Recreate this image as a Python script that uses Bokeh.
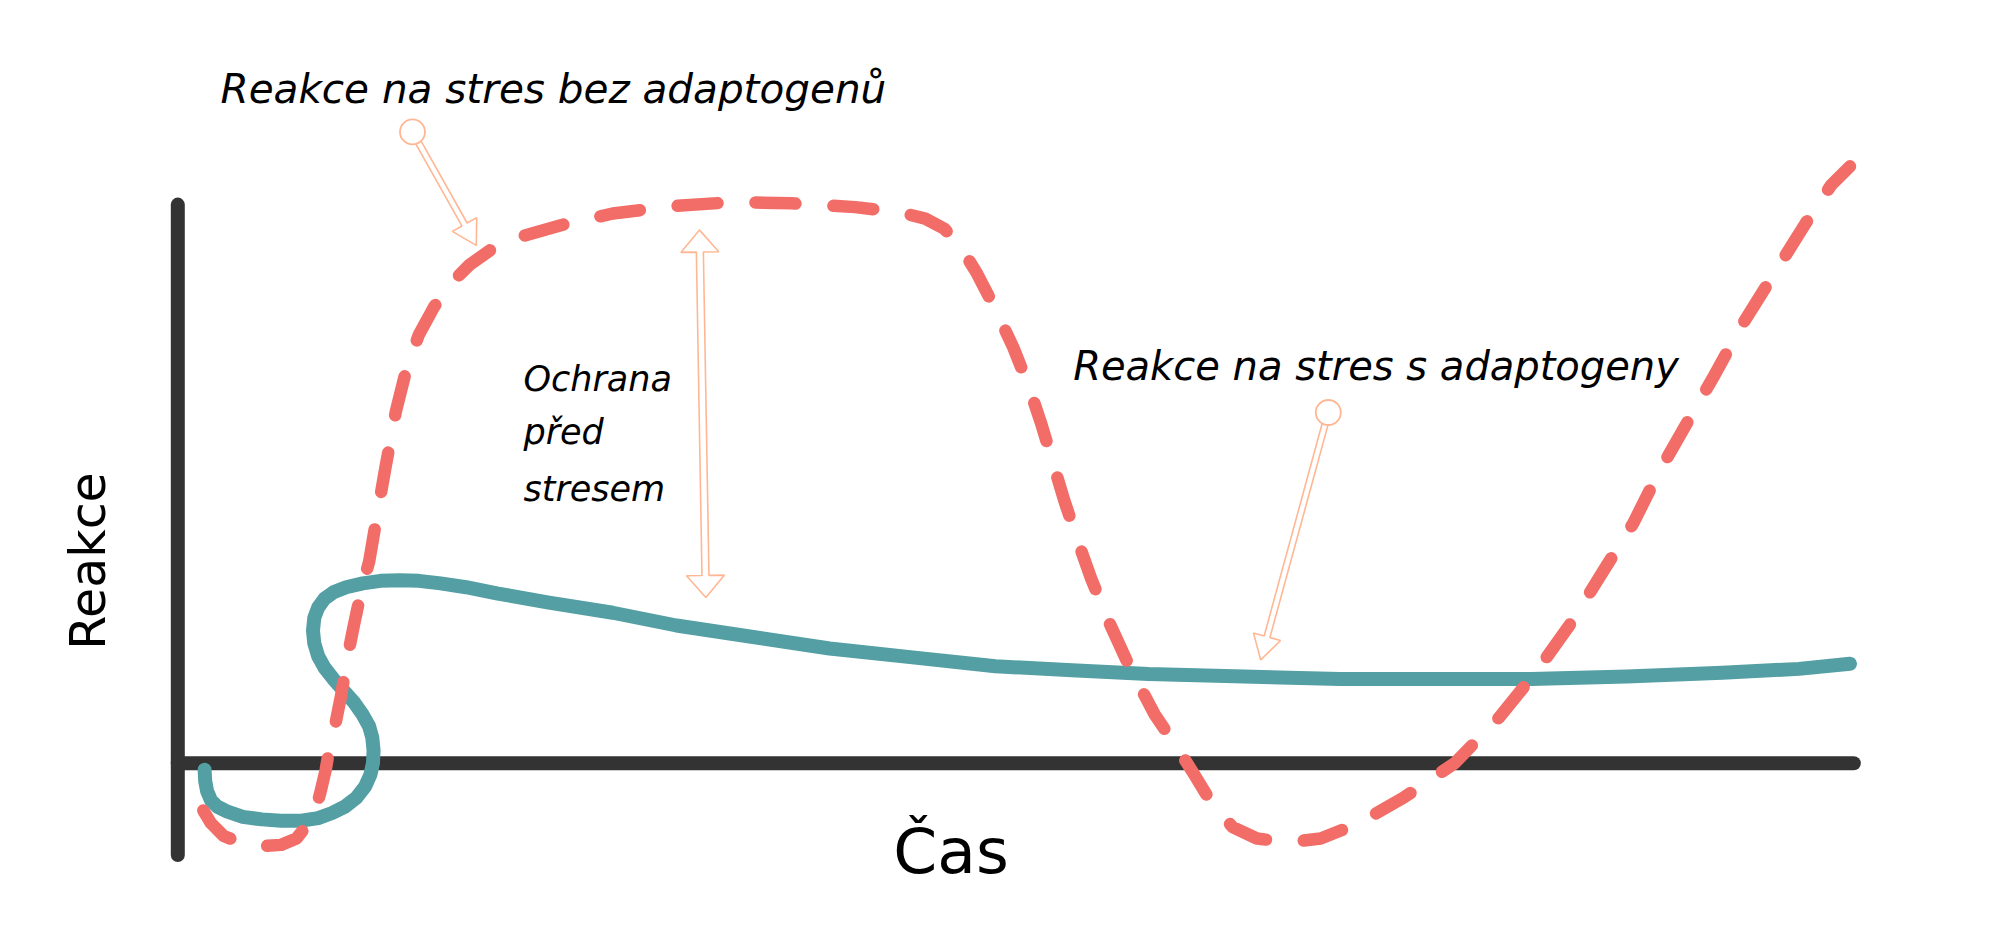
import numpy as np
from bokeh.plotting import figure
from bokeh.models import Range1d
from bokeh.core.properties import value
from bokeh.embed import file_html
from bokeh.resources import INLINE

# ---- data (in reference-drawing units) ----
axis_v_x = [139, 139]
axis_v_y = [160, 670]
axis_h_x = [139, 1453]
axis_h_y = [598, 598]

# Reaction with adaptogens (solid teal)
teal_x = [160, 160.5, 162, 165, 170, 178, 190, 205, 220, 236, 249, 260, 270, 279, 286, 290, 292,
          292.5, 291.5, 289, 284, 277, 269, 261, 254, 249, 246, 245, 246, 249, 254, 261, 271,
          284, 298, 313, 328, 345, 365, 390, 430, 480, 530, 590, 650, 715, 780, 840,
          900, 975, 1050, 1125, 1200, 1275, 1350, 1410, 1450]
teal_y = [603, 612, 620, 627, 632, 636, 640, 642, 643, 643, 641, 637, 632, 625, 616, 607, 598,
          588, 578, 569, 560, 550, 541, 532, 523, 514, 504, 494, 484, 476, 469, 464, 460,
          457, 455, 454.5, 455, 457, 460, 465, 472, 480, 490, 499, 508, 515, 522, 525,
          528, 530, 532, 532, 532, 530, 527, 524, 520]

# Reaction without adaptogens (dashed red)
red_x = [159, 165, 175, 190, 205, 220, 232, 240, 247, 251, 255, 258, 263, 267, 272, 277, 283,
         289, 295, 302, 310, 318, 328, 340, 353, 368, 385, 405, 440, 480, 530, 575, 620, 670, 705,
         725, 740, 752, 765, 780, 794, 806, 816, 825, 834, 844, 855, 868, 885, 905, 922, 936, 950,
         966, 985, 1010, 1035, 1065, 1100, 1140, 1175, 1205, 1232, 1258, 1280, 1300, 1320,
         1343, 1365, 1390, 1415, 1435, 1450]
red_y = [635, 645, 655, 661, 663, 662, 657, 647, 635, 620, 603, 585, 565, 545, 515, 490, 462,
         440, 405, 365, 322, 290, 262, 240, 222, 207, 195, 186, 176, 167, 161, 158, 159, 162, 166,
         171, 179, 192, 213, 242, 272, 302, 332, 362, 392, 422, 453, 485, 522, 560, 585, 607, 630,
         648, 657, 660, 657, 645, 625, 598, 562, 525, 487, 445, 410, 370, 335, 295, 255, 215,
         175, 145, 130]

# Arrows: start point (circle centre for pointers) and tip
ptr1_start = (323, 103)
ptr1_tip = (373, 192)
ptr2_start = (1041, 323)
ptr2_tip = (988, 517)
dbl_top = (548, 180)
dbl_bottom = (553, 468)

title_left = "Reakce na stres bez adaptogenů"
title_right = "Reakce na stres s adaptogeny"
mid_lines = ["Ochrana", "před", "stresem"]
x_label = "Čas"
y_label = "Reakce"

# ---- figure ----
S = 2000 / 1568
W, H = 1984, 916
p = figure(width=W, height=H,
           x_range=Range1d(0, W / S),
           y_range=Range1d(H / S, 0),
           output_backend="svg", toolbar_location=None,
           x_axis_location=None, y_axis_location=None, min_border=0)
p.grid.visible = False
p.outline_line_color = None
p.background_fill_color = "white"
p.border_fill_color = "white"

AXIS = "#333333"
TEAL = "#539FA3"
RED = "#F26D68"
PEACH = "#FFB793"

p.line(axis_v_x, axis_v_y, line_color=AXIS, line_width=14, line_cap="round")
p.line(axis_h_x, axis_h_y, line_color=AXIS, line_width=14, line_cap="round")

p.line(teal_x, teal_y, line_color=TEAL, line_width=14, line_cap="round", line_join="round")
p.line(red_x, red_y, line_color=RED, line_width=12.5, line_cap="round", line_join="round",
       line_dash="40 38")


def arrow_outline(a, b, shaft_w, head_w, head_l, double=False):
    a = np.array(a, float)
    b = np.array(b, float)
    d = b - a
    u = d / np.hypot(*d)
    n = np.array([-u[1], u[0]])
    end = b - u * head_l
    pts = []
    if double:
        start = a + u * head_l
        pts += [start - n * head_w / 2, a, start + n * head_w / 2]
    else:
        start = a
    pts += [start + n * shaft_w / 2, end + n * shaft_w / 2, end + n * head_w / 2, b,
            end - n * head_w / 2, end - n * shaft_w / 2, start - n * shaft_w / 2]
    pts = np.array(pts)
    return list(pts[:, 0]), list(pts[:, 1])


def pointer(c, tip):
    c = np.array(c, float)
    t = np.array(tip, float)
    u = (t - c) / np.hypot(*(t - c))
    r = 12 / S
    xs, ys = arrow_outline(c + u * r, t, 6 / S, 28 / S, 24 / S)
    p.patch(xs, ys, fill_color="white", line_color=PEACH, line_width=1.6)
    p.scatter([c[0]], [c[1]], size=25, marker="circle", fill_color="white",
              line_color=PEACH, line_width=1.8)


pointer(ptr1_start, ptr1_tip)
pointer(ptr2_start, ptr2_tip)
xs, ys = arrow_outline(dbl_top, dbl_bottom, 7 / S, 38 / S, 22 / S, double=True)
p.patch(xs, ys, fill_color="white", line_color=PEACH, line_width=1.6)

FONT = value("DejaVu Sans")
p.text([172.5], [69], text=[title_left], text_font=FONT, text_font_style="italic",
       text_font_size="40.5px", text_color="black", text_align="left", text_baseline="alphabetic")
p.text([841], [286.5], text=[title_right], text_font=FONT, text_font_style="italic",
       text_font_size="40px", text_color="black", text_align="left", text_baseline="alphabetic")
p.text([410, 410, 410], [297, 338.5, 383], text=mid_lines, text_font=FONT,
       text_font_style="italic", text_font_size="35px", text_color="black",
       text_align="left", text_baseline="alphabetic")
p.text([700], [667], text=[x_label], text_font=FONT, text_font_size="63px",
       text_color="black", text_align="left", text_baseline="alphabetic")
p.text([69], [509], text=[y_label], text_font=FONT, text_font_size="49px",
       text_color="black", text_align="left", text_baseline="alphabetic", angle=np.pi / 2)

open("out.html", "w").write(file_html(p, INLINE))
